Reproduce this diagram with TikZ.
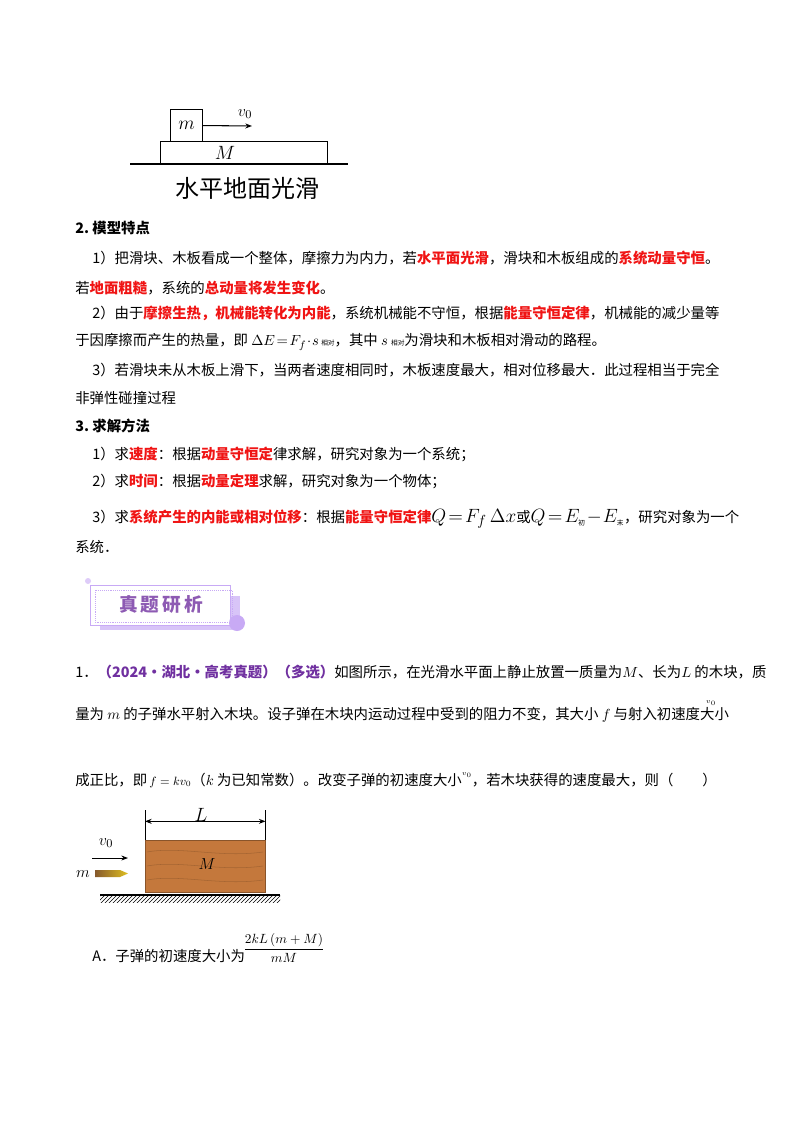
\documentclass[tikz,border=0pt]{standalone}
\usepackage{amsmath}
\usepackage{fontspec}
\setmainfont{Liberation Serif}
\newfontfamily\cjk{Noto Sans CJK SC}
\usetikzlibrary{arrows.meta,patterns}
\definecolor{hl}{RGB}{240,20,20}
\definecolor{pu}{RGB}{112,48,160}
\definecolor{lav}{RGB}{200,170,245}
\definecolor{wood}{RGB}{196,120,60}
\newcommand{\hr}[1]{{\color{hl}\bfseries #1}}
\newcommand{\pp}[1]{{\color{pu}\bfseries #1}}
\tikzset{
 tx/.style={anchor=west,inner sep=0pt,font=\cjk\fontsize{10.8}{12}\selectfont},
 big/.style={inner sep=0pt,font=\cjk\fontsize{18}{20}\selectfont},
 ln/.style={line width=0.8pt},
 ar/.style={ln,-{Stealth[length=5pt]}}
}
\begin{document}
\begin{tikzpicture}[x=0.75pt,y=-0.75pt]
\useasboundingbox[fill=white] (0,0) rectangle (800,1132);
% top figure
\draw[ln] (130,164) coordinate (g1) -- (348,164) coordinate (g2);
\node[draw,ln,minimum width=167*0.75pt,minimum height=23*0.75pt,inner sep=0pt,anchor=north west] (bM) at (160,141) {};
\node[font=\itshape\fontsize{15}{16}\selectfont] at (225,153) {$M$};
\node[draw,ln,minimum width=32*0.75pt,minimum height=32*0.75pt,inner sep=0pt,anchor=north west,font=\fontsize{15}{16}\selectfont] (bm) at (170,109) {$m$};
\coordinate (a1) at (252,126);
\draw[ar] (bm.east) -- (a1);
\node[font=\fontsize{13}{14}\selectfont] at (245,114) {$v_0$};
\node[big] (cap1) at (247,188) {水平地面光滑};
% text
\node[tx] (t1) at (75,228) {\bfseries 2.\ 模型特点};
\node[tx] (t2) at (92,258) {1）把滑块、木板看成一个整体，摩擦力为内力，若\hr{水平面光滑}，滑块和木板组成的\hr{系统动量守恒}。};
\node[tx] (t3) at (75,288) {若\hr{地面粗糙}，系统的\hr{总动量将发生变化}。};
\node[tx] (t4) at (92,313) {2）由于\hr{摩擦生热，机械能转化为内能}，系统机械能不守恒，根据\hr{能量守恒定律}，机械能的减少量等};
\node[tx] (t5) at (75,342) {于因摩擦而产生的热量，即 $\Delta E\!=\!F_f\!\cdot\! s$\,{\tiny 相对}，其中 $s$ {\tiny 相对}为滑块和木板相对滑动的路程。};
\node[tx] (t6) at (92,370) {3）若滑块未从木板上滑下，当两者速度相同时，木板速度最大，相对位移最大．此过程相当于完全};
\node[tx] (t7) at (75,398) {非弹性碰撞过程};
\node[tx] (t8) at (75,426) {\bfseries 3.\ 求解方法};
\node[tx] (t9) at (92,454) {1）求\hr{速度}：根据\hr{动量守恒定}律求解，研究对象为一个系统；};
\node[tx] (t10) at (92,481) {2）求\hr{时间}：根据\hr{动量定理}求解，研究对象为一个物体；};
\node[tx] (t11) at (92,519) {3）求\hr{系统产生的内能或相对位移}：根据\hr{能量守恒定律}{\fontsize{15}{16}\selectfont$Q\!=\!F_f\,\Delta x$}或{\fontsize{15}{16}\selectfont$Q\!=\!E_{\mbox{\cjk\tiny 初}}\!-\!E_{\mbox{\cjk\tiny 末}}$}，研究对象为一个};
\node[tx] (t12) at (75,547) {系统．};
% banner
\fill[lav!70] (100,596) rectangle (240,630);
\node[draw=lav,line width=1pt,fill=white,minimum width=140*0.75pt,minimum height=40*0.75pt,anchor=north west,inner sep=0pt] (ban) at (90,585) {};
\draw[lav,densely dotted] (95,590) rectangle (232,622);
\node[inner sep=0pt,font=\cjk\bfseries\fontsize{14}{16}\selectfont,text=pu!80] at (161,604) {真\,题\,研\,析};
\fill[lav] (237,623) circle (8);
\fill[lav!60] (88,581) circle (3);
% question
\node[tx] (q1) at (75,672) {1．\pp{（2024·湖北·高考真题）（多选）}如图所示，在光滑水平面上静止放置一质量为$M$、长为$L$ 的木块，质};
\node[tx] (q2) at (75,715) {量为 $m$ 的子弹水平射入木块。设子弹在木块内运动过程中受到的阻力不变，其大小 $f$ 与射入初速度大小};
\node[font=\tiny] at (711,703) {$v_0$};
\node[tx] (q3) at (75,780) {成正比，即{\small$\,f=kv_0$}（$k$ 为已知常数）。改变子弹的初速度大小\raisebox{1.2ex}{\tiny$v_0$}，若木块获得的速度最大，则（\qquad）};
% figure 2
\fill[pattern=north east lines] (100,895) rectangle (280,902);
\draw[ln] (100,895) -- (280,895);
\node[fill=wood,draw=wood!70!black,minimum width=120*0.75pt,minimum height=52*0.75pt,inner sep=0pt,anchor=north west] (blk) at (145,840) {};
\foreach \yy in {852,866,880}{\draw[wood!60!black,opacity=0.4] (147,\yy) .. controls (180,\yy-6) and (220,\yy+6) .. (263,\yy);}
\node[font=\itshape\fontsize{13}{14}\selectfont] at (207,864) {$M$};
\draw[line width=0.7pt] (blk.north west) -- ++(0,-30) coordinate (l1);
\draw[line width=0.7pt] (blk.north east) -- ++(0,-30) coordinate (l2);
\draw[line width=0.7pt,{Stealth[length=5pt]}-{Stealth[length=5pt]}] ([yshift=14pt]blk.north west) -- ([yshift=14pt]blk.north east);
\node[font=\fontsize{14}{15}\selectfont] at (201,815) {$L$};
\coordinate (v1) at (92,858); \coordinate (v2) at (128,858);
\draw[line width=0.7pt,-{Stealth[length=5pt]}] (v1) -- (v2);
\node[font=\fontsize{13}{14}\selectfont] at (106,843) {$v_0$};
\node[font=\fontsize{13}{14}\selectfont] at (83,874) {$m$};
\shade[left color=brown!70!black,right color=yellow!50!brown] (95,870) -- (120,870) -- (128,873.5) -- (120,877) -- (95,877) -- cycle;
\node[tx] (qa) at (92,956) {A．子弹的初速度大小为};
\node[anchor=west,inner sep=0pt] at (243,948) {$\dfrac{2kL\left(m+M\right)}{mM}$};
\end{tikzpicture}
\end{document}
